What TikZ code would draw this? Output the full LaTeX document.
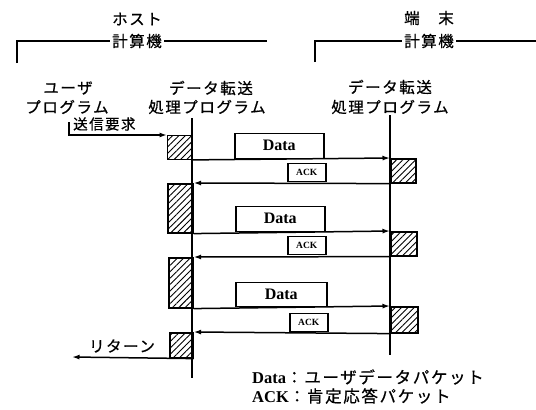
\documentclass[tikz,border=0pt]{standalone}
\usepackage{fontspec}
\newfontfamily\cjk{Noto Sans CJK JP}[LetterSpace=10,FakeBold=0.6]
\newfontfamily\lat{Liberation Serif}
\usetikzlibrary{patterns.meta,arrows.meta}
\begin{document}
\begin{tikzpicture}[x=1pt,y=-1pt,
  life/.style={line width=1.8pt},
  msg/.style={line width=1.5pt},
  tip/.style={-{Latex[length=7.5pt,width=5pt]}},
  hatch/.style={draw,line width=1.6pt,inner sep=0pt,anchor=north west,
    pattern={Lines[angle=45,distance=4.5pt,line width=0.9pt]}},
  pkt/.style={draw,fill=white,line width=1.5pt,inner sep=0pt,anchor=south west,
    font=\lat\bfseries\fontsize{16}{17}\selectfont},
  ackbox/.style={draw,fill=white,line width=1.5pt,inner sep=0pt,anchor=south west,
    minimum width=38pt,minimum height=18pt,font=\lat\bfseries\fontsize{9.5}{10}\selectfont},
  lbl/.style={inner sep=0pt,font=\cjk\fontsize{15.5}{18}\selectfont},
  brk/.style={line width=1.5pt},
  legend/.style={inner sep=0pt,anchor=west,font=\fontsize{16.5}{18}\selectfont}
]
\useasboundingbox (0,0) rectangle (536,410);

% brackets
\node[lbl] (hosta) at (137,19) {ホスト};
\node[lbl,fill=white,inner xsep=2pt] (hostb) at (137,41) {計算機};
\coordinate (hb0) at (17,63);
\coordinate (hb1) at (17,41);
\coordinate (hb2) at (267,41);
\draw[brk] (hb0) -- (hb1) -- (hostb.west);
\draw[brk] (hostb.east) -- (hb2);

\node[lbl] (terma) at (429,18) {端　末};
\node[lbl,fill=white,inner xsep=2pt] (termb) at (429,41) {計算機};
\coordinate (tb0) at (315,62);
\coordinate (tb1) at (315,41);
\coordinate (tb2) at (536,41);
\draw[brk] (tb0) -- (tb1) -- (termb.west);
\draw[brk] (termb.east) -- (tb2);

% program labels
\node[lbl] (ua) at (68,88) {ユーザ};
\node[lbl] (ub) at (67,107) {プログラム};
\node[lbl] (ha) at (211,88) {データ転送};
\node[lbl] (hb) at (207,107) {処理プログラム};
\node[lbl] (ta) at (390,87) {データ転送};
\node[lbl] (tb) at (390,107) {処理プログラム};

% lifelines
\coordinate (hT) at (192,118);
\coordinate (hB) at (192,378);
\coordinate (tT) at (390,115);
\coordinate (tB) at (390,355);
\draw[life] (hT) -- (hB);
\draw[life] (tT) -- (tB);

% hatched activity boxes
\node[hatch,minimum width=25pt,minimum height=24pt] (h1) at (167,135) {};
\node[hatch,minimum width=25pt,minimum height=49pt] (h2) at (167,183) {};
\node[hatch,minimum width=24pt,minimum height=50pt] (h3) at (168,257) {};
\node[hatch,minimum width=23pt,minimum height=25pt] (h4) at (169,332) {};
\node[hatch,minimum width=25pt,minimum height=24pt] (t1) at (390,158) {};
\node[hatch,minimum width=26pt,minimum height=24pt] (t2) at (390,231) {};
\node[hatch,minimum width=27pt,minimum height=26pt] (t3) at (390,306) {};

% user request
\coordinate (u) at (69,122);
\draw[msg,tip] (u) |- (h1.north west);
\node[lbl,font=\cjk\fontsize{14.5}{16}\selectfont,anchor=west] (req) at (73,124) {送信要求};

% packets
\node[pkt,minimum width=89pt,minimum height=25pt] (d1) at (234,159) {Data};
\node[pkt,minimum width=89pt,minimum height=25pt] (d2) at (235,232) {Data};
\node[pkt,minimum width=91pt,minimum height=24pt] (d3) at (235,307) {Data};
\node[ackbox] (a1) at (287,182) {ACK};
\node[ackbox] (a2) at (287,255) {ACK};
\node[ackbox] (a3) at (289,332) {ACK};

% messages
\draw[msg,tip] (h1.south east) -- (t1.north west);
\draw[msg,tip] (t1.south west) -- (h2.north east);
\draw[msg,tip] (h2.south east) -- (t2.north west);
\draw[msg,tip] (t2.south west) -- (h3.north east);
\draw[msg,tip] (h3.south east) -- (t3.north west);
\draw[msg,tip] (t3.south west) -- (h4.north east);

% return
\coordinate (ret) at (72,357);
\draw[msg,tip] (h4.south east) -- (ret);
\node[lbl] (retl) at (122,346) {リターン};

% legend
\node[legend] (lg1) at (252,377) {{\lat\bfseries Data}{\cjk ：ユーザデータパケット}};
\node[legend] (lg2) at (252,396) {{\lat\bfseries ACK}{\cjk ：肯定応答パケット}};
\end{tikzpicture}
\end{document}
